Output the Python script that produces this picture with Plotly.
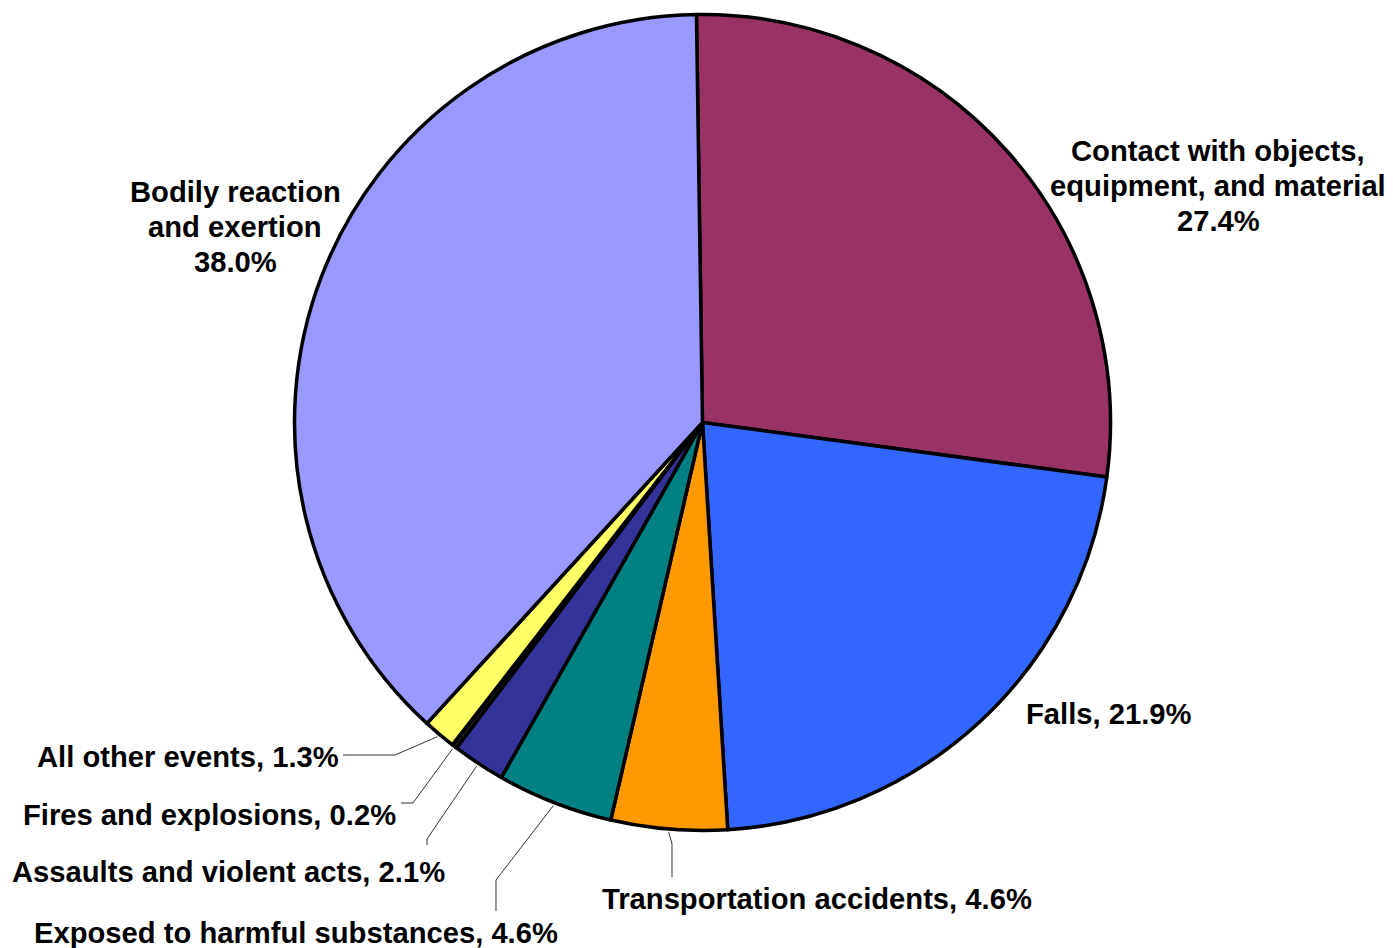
import math
import plotly.graph_objects as go

# Share of events, clockwise from 12 o'clock
events = [
    "Contact with objects, equipment, and material",
    "Falls",
    "Transportation accidents",
    "Exposed to harmful substances",
    "Assaults and violent acts",
    "Fires and explosions",
    "All other events",
    "Bodily reaction and exertion",
]
shares = [27.4, 21.9, 4.6, 4.6, 2.1, 0.2, 1.3, 38.0]
label_lines = [
    ["Contact with objects,", "equipment, and material", "27.4%"],
    ["Falls, 21.9%"],
    ["Transportation accidents, 4.6%"],
    ["Exposed to harmful substances, 4.6%"],
    ["Assaults and violent acts, 2.1%"],
    ["Fires and explosions, 0.2%"],
    ["All other events, 1.3%"],
    ["Bodily reaction", "and exertion", "38.0%"],
]
colors = ["#993366", "#3366FF", "#FF9900", "#008080", "#333399", "#222222", "#FFFF66", "#9999FF"]

W, H = 1393, 948
cx, cy, R = 702.5, 422.5, 408
rotation = -0.85
line_gap = 35

# label centres (px) and leader line bends (px), None = no leader line
label_pos = [(1218, 186), (1109, 714), (817, 899), (296, 933),
             (228, 872), (209, 815), (188, 757), (235, 227)]
leaders = [None, None,
           [(672, 844), (672, 877)],
           [(496, 880), (496, 911)],
           [(427, 839), (427, 845)],
           [(413, 803), (401, 803)],
           [(395, 755), (343, 755)],
           None]


def px(x, y):
    return x / W, 1 - y / H


fig = go.Figure()
fig.add_trace(go.Pie(
    labels=events, values=shares, sort=False, direction="clockwise",
    rotation=rotation, textinfo="none", hoverinfo="label+percent",
    marker=dict(colors=colors, line=dict(color="black", width=3.5)),
    domain=dict(x=[(cx - R) / W, (cx + R) / W], y=[1 - (cy + R) / H, 1 - (cy - R) / H]),
    showlegend=False,
))

total = sum(shares)
cum = 0
annotations = []
shapes = []
for i, v in enumerate(shares):
    mid = (cum + v / 2) / total * 360 + rotation
    cum += v
    lx, ly = label_pos[i]
    n = len(label_lines[i])
    for k, line in enumerate(label_lines[i]):
        x, y = px(lx, ly + (k - (n - 1) / 2) * line_gap)
        annotations.append(dict(x=x, y=y, xref="paper", yref="paper", text="<b>%s</b>" % line,
                                showarrow=False, xanchor="center", yanchor="middle"))
    if leaders[i]:
        a = math.radians(mid)
        pts = [(cx + (R + 3) * math.sin(a), cy - (R + 3) * math.cos(a))] + leaders[i]
        path = "M " + " L ".join("%f,%f" % px(*p) for p in pts)
        shapes.append(dict(type="path", path=path, xref="paper", yref="paper",
                           line=dict(color="#333333", width=1)))

fig.update_layout(
    width=W, height=H,
    margin=dict(l=0, r=0, t=0, b=0),
    paper_bgcolor="white",
    plot_bgcolor="white",
    font=dict(family="Liberation Sans, Arial, sans-serif", size=29.2, color="black"),
    annotations=annotations,
    shapes=shapes,
)

fig.write_html("out.html", config={"displayModeBar": False},
               post_script="document.body.style.margin='0';")
